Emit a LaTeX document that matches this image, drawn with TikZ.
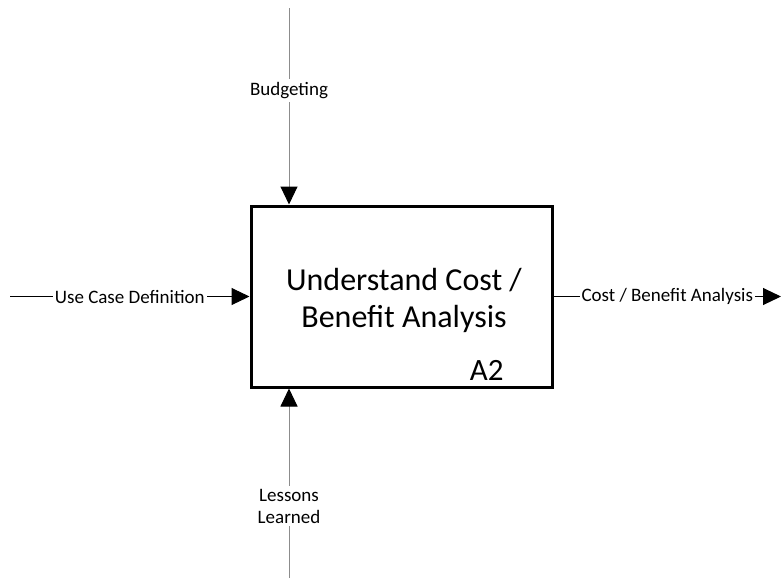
\documentclass[tikz,border=0pt]{standalone}
\usepackage{fontspec}
\setmainfont{Carlito}
\usetikzlibrary{arrows.meta}
\definecolor{ctlgray}{RGB}{140,140,140}
\tikzset{
	flow/.style={-{Triangle[length=18pt,width=17pt,color=black]},line width=1pt},
	ctrl/.style={flow,draw=ctlgray},
	lbl/.style={fill=white,inner xsep=2pt,inner ysep=3pt,align=center,font=\fontsize{19}{22}\selectfont},
	actbox/.style={draw,line width=3pt,minimum width=301pt,minimum height=181pt,align=center,font=\fontsize{32}{37}\selectfont}
}
\begin{document}
\begin{tikzpicture}[x=1pt,y=-1pt]
			\useasboundingbox (0,0) rectangle (783,582);
			\node [actbox] (a2) at (401.5,296.5) {};
			\node [align=center,font=\fontsize{32}{37}\selectfont] (title) at (404,300) {Understand Cost /\\Benefit Analysis};
			\node [anchor=base east,font=\fontsize{31}{33}\selectfont] (num) at (507,380) {A2};

			\coordinate (in) at (10,296.5);	\coordinate (out) at (781,296.5);
			\coordinate (ctl) at (289,8);		\coordinate (mech) at (289,578);

			\draw [flow] (in) -- (a2.west) node [lbl,midway] (inlbl) {Use Case Definition};
			\draw [flow] (a2.east) -- (out) node [lbl,midway] (outlbl) {Cost / Benefit Analysis};
			\draw [ctrl] (ctl) -- (a2.north -| ctl) node [lbl,pos=.42] (ctllbl) {Budgeting};
			\draw [ctrl] (mech) -- (a2.south -| mech) node [lbl,pos=.38] (mechlbl) {Lessons\\Learned};
		\end{tikzpicture}
\end{document}
